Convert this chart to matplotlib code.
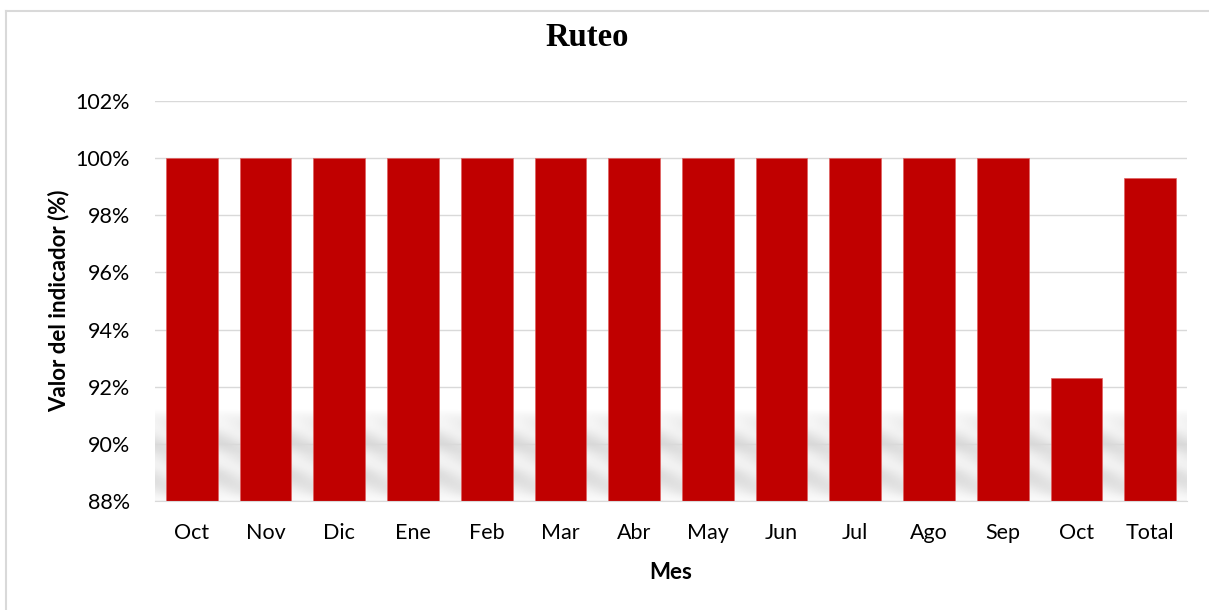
import matplotlib
matplotlib.use("Agg")
import matplotlib.pyplot as plt
import numpy as np
from matplotlib.ticker import FuncFormatter, MultipleLocator

categories = ["Oct", "Nov", "Dic", "Ene", "Feb", "Mar", "Abr", "May", "Jun", "Jul", "Ago", "Sep", "Oct", "Total"]
values = [100, 100, 100, 100, 100, 100, 100, 100, 100, 100, 100, 100, 92.3, 99.3]

plt.rcParams['font.family'] = ['Lato', 'DejaVu Sans']

fig = plt.figure(figsize=(12.09, 6.10), dpi=100)
ax = fig.add_axes([155/1209, 1-501/610, (1187-155)/1209, 400/610])

x = np.arange(len(categories))

# soft shadow band near the bottom of the plot area
prof_y = np.linspace(88, 91.2, 200)
alpha = np.interp(prof_y, [88, 88.3, 89.0, 89.6, 90.0, 90.4, 90.9, 91.2],
                  [0.10, 0.22, 0.32, 0.25, 0.32, 0.30, 0.12, 0.0])
xs = np.linspace(-0.5, len(categories) - 0.5, 600)
streak = 0.7 + 0.3 * np.cos(2 * np.pi * (xs[None, :] * 1.0 + (prof_y[:, None] - 88) * 0.8))
img = np.zeros((len(prof_y), len(xs), 4))
img[..., :3] = 0.55
img[..., 3] = alpha[:, None] * streak
ax.imshow(img, extent=[-0.5, len(categories) - 0.5, 88, 91.2], origin='lower',
          aspect='auto', zorder=0.5, interpolation='bilinear')

ax.bar(x, values, width=0.70, color='#C00000', edgecolor='#E06060', linewidth=0.5, zorder=2)

ax.set_ylim(88, 102)
ax.set_xlim(-0.5, len(categories) - 0.5)
ax.yaxis.set_major_locator(MultipleLocator(2))
ax.yaxis.set_major_formatter(FuncFormatter(lambda v, p: f"{v:.0f}%"))
ax.grid(axis='y', color='#D9D9D9', linewidth=1.0, zorder=0)
ax.set_axisbelow(True)
for s in ax.spines.values():
    s.set_visible(False)
ax.spines['bottom'].set_visible(True)
ax.spines['bottom'].set_color('#D9D9D9')
ax.tick_params(axis='both', length=0, labelsize=15.5, colors='#000000')
ax.tick_params(axis='y', pad=18)
ax.tick_params(axis='x', pad=16)
ax.set_xticks(x)
ax.set_xticklabels(categories)

ax.set_ylabel("Valor del indicador (%)", fontsize=16, fontweight='bold', labelpad=4)
ax.set_xlabel("Mes", fontsize=16, fontweight='bold', labelpad=13.5)

fig.text(587/1209, 1-38/610, "Ruteo", fontsize=23.5, fontweight='bold',
         family='Liberation Serif', ha='center', va='center')

# chart frame (left and top edges visible)
fig.add_artist(plt.Line2D([6/1209, 6/1209], [0, 1-11/610], color='#D9D9D9', lw=1.5, transform=fig.transFigure))
fig.add_artist(plt.Line2D([6/1209, 1], [1-11/610, 1-11/610], color='#D9D9D9', lw=1.5, transform=fig.transFigure))

fig.savefig("out.png", dpi=100)
